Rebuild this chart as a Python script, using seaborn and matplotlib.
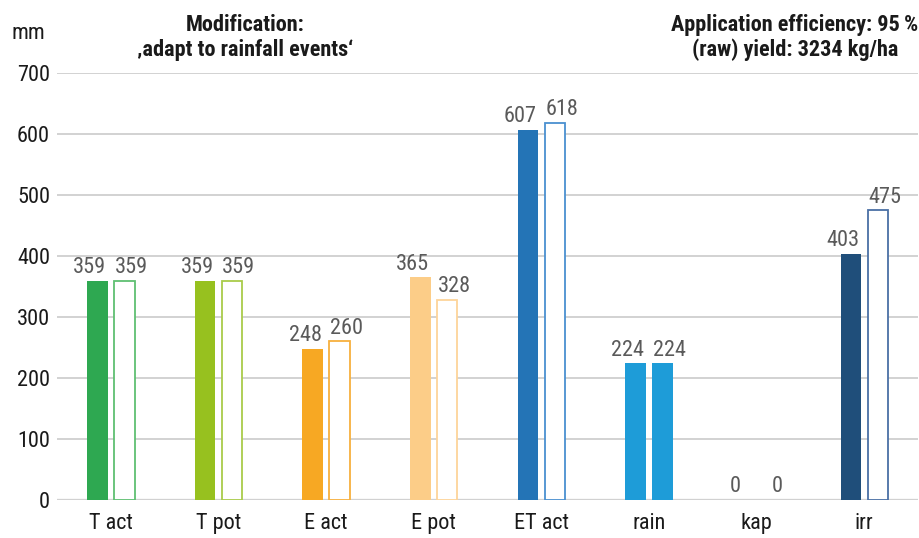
import matplotlib
matplotlib.use("Agg")
import matplotlib.pyplot as plt
import seaborn as sns
import pandas as pd

# data
categories = ["T act", "T pot", "E act", "E pot", "ET act", "rain", "kap", "irr"]
values_base = [359, 359, 248, 365, 607, 224, 0, 403]
values_mod = [359, 359, 260, 328, 618, 224, 0, 475]
series = ["reference", "modification"]

fill_colors = ["#2ea851", "#97c11f", "#f7a823", "#fccd88", "#2474b6", "#1e9cd8", "#9e9e9e", "#1f4e7a"]
edge_colors = ["#5fbf72", "#a9cc4a", "#f7b03e", "#fdd49a", "#4a90d0", "#1e9cd8", "#9e9e9e", "#4a6fa5"]
hollow = [True, True, True, True, True, False, True, True]

df = pd.DataFrame({
    "cat": categories * 2,
    "mm": values_base + values_mod,
    "series": [series[0]] * len(categories) + [series[1]] * len(categories),
})

sns.set_theme(style="white")
plt.rcParams["font.family"] = ["Roboto Condensed", "Roboto", "DejaVu Sans"]

fig = plt.figure(figsize=(9.2, 5.38), dpi=100)
ax = fig.add_axes([0.062, 0.0706, 0.936, 0.7936])

sns.barplot(data=df, x="cat", y="mm", hue="series", order=categories,
            hue_order=series, width=0.5, gap=0.24, dodge=True,
            legend=False, ax=ax, errorbar=None)

# style the two bar groups: filled first, outlined second
for i, bar in enumerate(ax.containers[0]):
    bar.set_facecolor(fill_colors[i])
    bar.set_edgecolor("none")
for i, bar in enumerate(ax.containers[1]):
    if hollow[i] and bar.get_height() > 0:
        bar.set_facecolor("white")
        bar.set_edgecolor(edge_colors[i])
        bar.set_linewidth(1.3)
    else:
        bar.set_facecolor(fill_colors[i])
        bar.set_edgecolor("none")
        bar.set_linewidth(0)

# value labels, nudged outward like the original
for k, dx in [(0, -5.5), (1, 5.0)]:
    for bar in ax.containers[k]:
        h = bar.get_height()
        ax.annotate(f"{h:.0f}", (bar.get_x() + bar.get_width() / 2, h),
                    xytext=(dx, 2), textcoords="offset points",
                    ha="center", va="bottom", fontsize=16, color="#5a5a5a")

ax.set_ylim(0, 700)
ax.set_xlim(-0.5, 7.5)
ax.set_yticks(range(0, 701, 100))
ax.yaxis.grid(True, color="#d2d2d2", linewidth=1.4)
ax.set_axisbelow(True)
for s in ax.spines.values():
    s.set_visible(False)
ax.axhline(0, color="#c8c8c8", linewidth=1.6, zorder=0.5)

ax.set_xticks([i + 0.5 for i in range(7)], minor=True)
ax.tick_params(axis="x", which="minor", direction="in", length=8, color="#d2d2d2", width=1)
ax.tick_params(axis="x", which="major", length=0, labelsize=16, pad=9, colors="#1a1a1a")
ax.tick_params(axis="y", length=0, labelsize=16, pad=5, colors="#1a1a1a")
ax.set_xlabel("")
ax.set_ylabel("")

fig.text(0.013, 0.937, "mm", fontsize=16, color="#1a1a1a", va="center")
fig.text(0.266, 0.930, "Modification:\n\u201aadapt to rainfall events\u2018", fontsize=16,
         fontweight="bold", ha="center", va="center", linespacing=1.15, color="#1a1a1a")
fig.text(0.864, 0.930, "Application efficiency: 95\u2009%\n(raw) yield: 3234 kg/ha", fontsize=16,
         fontweight="bold", ha="center", va="center", linespacing=1.15, color="#1a1a1a")

fig.savefig("out.png", dpi=100, facecolor="white")
